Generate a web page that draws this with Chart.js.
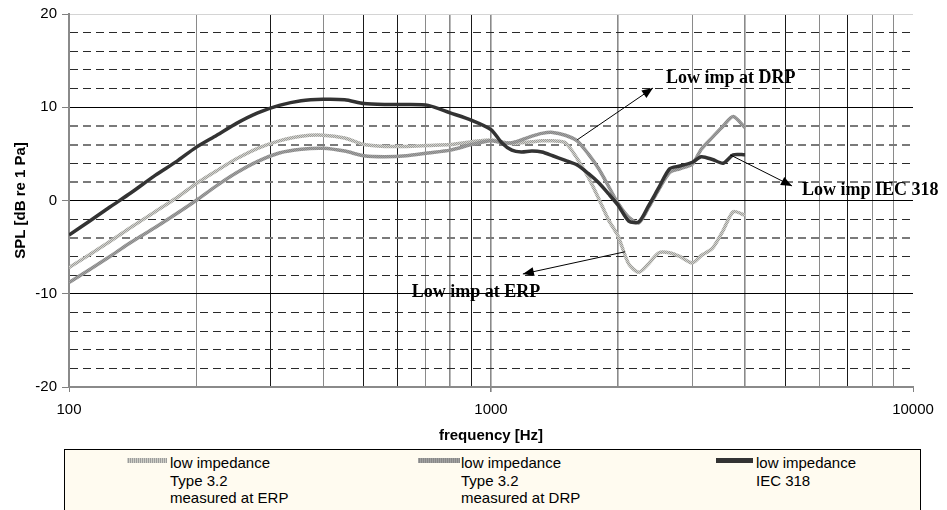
<!DOCTYPE html>
<html>
<head>
<meta charset="utf-8">
<script src="https://cdn.jsdelivr.net/npm/chart.js@4"></script>
<style>
  body { margin: 0; overflow: hidden; background: #fff; }
  #wrap { position: relative; width: 947px; height: 510px; overflow: hidden; }
  #legend {
    position: absolute; left: 64px; top: 449px; width: 857px; height: 80px;
    box-sizing: border-box; border: 1px solid #000; background: #fffbf0;
    font-family: "Liberation Sans", Arial, sans-serif; font-size: 15px; line-height: 17.5px; color: #000;
  }
  .sw { position: absolute; top: 8px; height: 5px; }
  .txt { position: absolute; top: 4px; white-space: nowrap; }
</style>
</head>
<body>
<div id="wrap">
  <canvas id="chart" width="947" height="510"></canvas>
  <div id="legend"></div>
</div>
<script>
// frequencies in Hz
const freqs = [100, 112, 125, 140, 160, 180, 200, 224, 250, 280, 315, 355, 400, 450, 500, 560, 630, 710, 800, 900,
  1000, 1060, 1120, 1180, 1250, 1320, 1400, 1500, 1600, 1700, 1800, 1900, 2000, 2120, 2240, 2360, 2500, 2650, 2800, 3000,
  3150, 3350, 3550, 3750, 4000]

// SPL dB re 1 Pa
const erpValues = [-7.2, -5.8, -4.4, -2.9, -1.2, 0.3, 1.8, 3.2, 4.5, 5.6, 6.4, 6.9, 7.0, 6.7, 6.0, 5.8, 5.8, 5.9, 6.0, 6.3,
  6.5, 6.3, 6.1, 6.2, 6.3, 6.4, 6.4, 6.2, 4.5, 2.5, 0.2, -2.1, -3.8, -6.8, -7.7, -6.8, -5.6, -5.6, -6.0, -6.7,
  -5.9, -5.1, -3.2, -1.2, -1.6]
const drpValues = [-8.8, -7.4, -6.0, -4.5, -2.9, -1.4, 0.0, 1.6, 3.0, 4.2, 5.1, 5.5, 5.6, 5.3, 4.8, 4.7, 4.8, 5.1, 5.4, 6.0,
  6.4, 6.2, 6.2, 6.5, 6.9, 7.2, 7.3, 7.0, 6.4, 5.0, 3.4, 1.5, -0.3, -1.8, -2.4, -0.8, 1.2, 3.0, 3.4, 3.9,
  5.5, 6.8, 8.0, 9.0, 7.8]
const iecValues = [-3.7, -2.2, -0.7, 0.8, 2.7, 4.2, 5.7, 7.0, 8.3, 9.4, 10.2, 10.7, 10.85, 10.8, 10.4, 10.3, 10.3, 10.2, 9.4, 8.6,
  7.6, 6.2, 5.4, 5.2, 5.3, 5.2, 4.8, 4.3, 3.8, 2.9, 1.9, 0.7, -0.5, -2.2, -2.3, -0.6, 1.4, 3.4, 3.7, 4.1,
  4.7, 4.4, 4.0, 4.9, 4.9]

const seriesLabels = [
  ['low impedance', 'Type 3.2', 'measured at ERP'],
  ['low impedance', 'Type 3.2', 'measured at DRP'],
  ['low impedance', 'IEC 318']
]

const xTicks = [100, 200, 300, 400, 500, 600, 700, 800, 900, 1000, 2000, 3000, 4000, 5000, 6000, 7000, 8000, 9000, 10000]
const xTickLabels = { 100: '100', 1000: '1000', 10000: '10000' }

// callout texts with arrows (data coordinates)
const callouts = [
  { text: 'Low imp at DRP', from: [1600, 6.5], to: [2420, 12.06], at: [2598, 13.1], align: 'left' },
  { text: 'Low imp IEC 318', from: [3685, 4.9], to: [5169, 1.56], at: [5458, 1.1], align: 'left' },
  { text: 'Low imp at ERP', from: [2077, -5.5], to: [1190, -7.88], at: [921, -9.9], align: 'center' }
]

function pattern(c1, c2) {
  const p = document.createElement('canvas')
  p.width = 2; p.height = 2
  const g = p.getContext('2d')
  g.fillStyle = c1; g.fillRect(0, 0, 2, 2)
  g.fillStyle = c2; g.fillRect(0, 0, 1, 1); g.fillRect(1, 1, 1, 1)
  return g.createPattern(p, 'repeat')
}

const ctx = document.getElementById('chart').getContext('2d')
const erpStyle = pattern('#d4d4cc', '#9c9c9c')
const drpStyle = pattern('#a2a2a2', '#888888')

Chart.defaults.font.family = '"Liberation Sans", Arial, sans-serif'
Chart.defaults.color = '#000'

const calloutPlugin = {
  id: 'callouts',
  afterDatasetsDraw(chart) {
    const c = chart.ctx, xs = chart.scales.x, ys = chart.scales.y
    c.save()
    c.strokeStyle = '#000'
    c.fillStyle = '#000'
    c.lineWidth = 1
    callouts.forEach(a => {
      const x1 = xs.getPixelForValue(a.from[0]), y1 = ys.getPixelForValue(a.from[1])
      const x2 = xs.getPixelForValue(a.to[0]), y2 = ys.getPixelForValue(a.to[1])
      c.beginPath(); c.moveTo(x1, y1); c.lineTo(x2, y2); c.stroke()
      const ang = Math.atan2(y2 - y1, x2 - x1)
      const L = 11, W = 4.5
      c.beginPath()
      c.moveTo(x2, y2)
      c.lineTo(x2 - L * Math.cos(ang) + W * Math.sin(ang), y2 - L * Math.sin(ang) - W * Math.cos(ang))
      c.lineTo(x2 - L * Math.cos(ang) - W * Math.sin(ang), y2 - L * Math.sin(ang) + W * Math.cos(ang))
      c.closePath(); c.fill()
      c.font = 'bold 18px "Liberation Serif", "Times New Roman", serif'
      c.textAlign = a.align
      c.textBaseline = 'middle'
      c.fillText(a.text, xs.getPixelForValue(a.at[0]), ys.getPixelForValue(a.at[1]))
    })
    c.restore()
  }
}

const blackX = [300, 500, 600, 900, 5000, 7000]
const grayY = [8, 6, 2, -4]

new Chart(ctx, {
  type: 'line',
  data: {
    labels: freqs,
    datasets: [
      { label: seriesLabels[0].join(' '), data: erpValues, borderColor: erpStyle, borderWidth: 3.5, order: 2 },
      { label: seriesLabels[1].join(' '), data: drpValues, borderColor: drpStyle, borderWidth: 3.5, order: 1 },
      { label: seriesLabels[2].join(' '), data: iecValues, borderColor: '#333333', borderWidth: 3.5, order: 0 }
    ].map(d => Object.assign(d, { pointRadius: 0, tension: 0.25, fill: false }))
  },
  options: {
    responsive: false,
    animation: false,
    devicePixelRatio: 1,
    layout: { padding: { left: 0, right: 34, top: 14, bottom: 63 } },
    plugins: { legend: { display: false }, tooltip: { enabled: false } },
    scales: {
      x: {
        type: 'logarithmic',
        min: 100, max: 10000,
        afterBuildTicks: s => { s.ticks = xTicks.map(v => ({ value: v })) },
        afterFit: s => { s.height = 60 },
        ticks: {
          autoSkip: false, maxRotation: 0, padding: 9,
          font: { size: 15 },
          callback: v => xTickLabels[v] || ''
        },
        grid: {
          color: c => {
            const v = c.tick ? c.tick.value : 0
            if (v === 10000) return 'rgba(0,0,0,0)'
            return blackX.includes(v) ? '#1a1a1a' : '#8a8a8a'
          },
          lineWidth: c => (c.tick && [1000, 2000, 4000, 800].includes(c.tick.value)) ? 1.6 : 1,
          tickLength: 5,
          tickColor: c => (c.tick && xTickLabels[c.tick.value]) ? '#808080' : 'rgba(0,0,0,0)'
        },
        border: { color: '#8a8a8a', width: 2 },
        title: {
          display: true, text: 'frequency [Hz]',
          font: { size: 15, weight: 'bold' },
          padding: { top: 0, bottom: 2 }
        }
      },
      y: {
        min: -20, max: 20,
        afterFit: s => { s.width = 69 },
        ticks: {
          stepSize: 2, maxTicksLimit: 30, autoSkip: false, padding: 5,
          font: { size: 15 },
          callback: v => (v % 10 === 0 ? String(v) : '')
        },
        grid: {
          color: c => {
            const v = c.tick ? c.tick.value : 0
            if (v === 20) return '#d4d4d4'
            if (v % 10 === 0) return '#000'
            return grayY.includes(v) ? '#7a7a7a' : '#2a2a2a'
          },
          lineWidth: c => (c.tick && grayY.includes(c.tick.value)) ? 2 : 1,
          tickLength: 7,
          tickColor: c => (c.tick && c.tick.value % 10 === 0) ? '#808080' : 'rgba(0,0,0,0)'
        },
        border: {
          color: '#8a8a8a', width: 2,
          dash: c => (c.tick && c.tick.value % 10 !== 0) ? [8, 5] : []
        },
        title: {
          display: true, text: 'SPL [dB re 1 Pa]',
          font: { size: 15, weight: 'bold' },
          padding: { top: 12, bottom: 0 }
        }
      }
    }
  },
  plugins: [calloutPlugin]
})

// legend, three columns
const legendBox = document.getElementById('legend')
const swatches = [
  { left: 62, width: 40, bg: 'repeating-linear-gradient(90deg, #d0d0c8 0 1px, #9c9c9c 1px 2px)' },
  { left: 353, width: 42, bg: 'repeating-linear-gradient(90deg, #a2a2a2 0 1px, #888888 1px 2px)' },
  { left: 651, width: 37, bg: '#333333' }
]
const textLeft = [105, 396, 691]
seriesLabels.forEach((lines, i) => {
  const sw = document.createElement('div')
  sw.className = 'sw'
  sw.style.left = swatches[i].left + 'px'
  sw.style.width = swatches[i].width + 'px'
  sw.style.background = swatches[i].bg
  legendBox.appendChild(sw)
  const t = document.createElement('div')
  t.className = 'txt'
  t.style.left = textLeft[i] + 'px'
  t.innerHTML = lines.join('<br>')
  legendBox.appendChild(t)
})
</script>
</body>
</html>
